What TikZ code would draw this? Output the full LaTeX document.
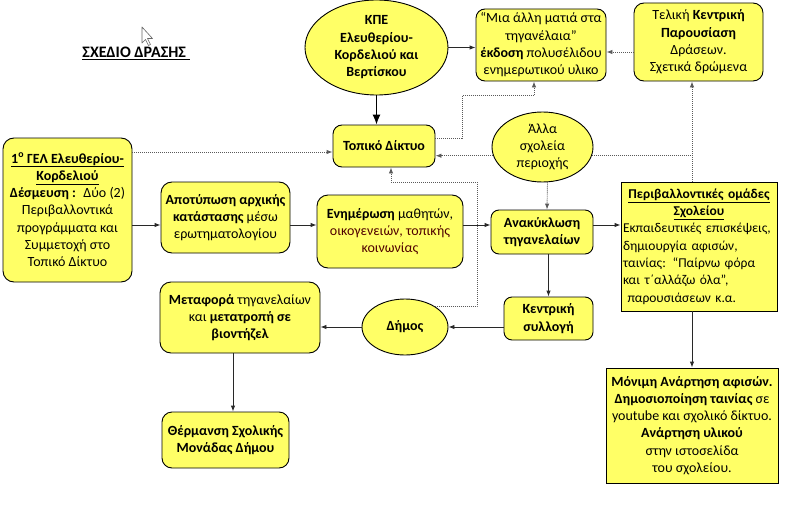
\documentclass[tikz,border=0pt]{standalone}
\usepackage{fontspec}
\setmainfont{Carlito}
\usetikzlibrary{arrows.meta,shapes.geometric}
\definecolor{boxyellow}{RGB}{255,255,102}
\definecolor{linegray}{RGB}{40,40,40}
\definecolor{dotgray}{RGB}{90,90,90}
\definecolor{darkred}{RGB}{80,0,0}
\tikzset{
  base/.style={draw=black, line width=0.9pt, fill=boxyellow, align=center, inner sep=1pt,
    font=\fontsize{14}{17.3}\selectfont},
  rbox/.style={base, rounded corners=11pt},
  sbox/.style={base},
  ebox/.style={base, ellipse},
  arr/.style={draw=linegray, line width=0.9pt, -{Latex[length=6pt,width=4.5pt]}},
  bigarr/.style={draw=black, line width=1.2pt, -{Latex[length=10pt,width=8pt]}},
  dotline/.style={draw=dotgray, line width=0.9pt, dash pattern=on 1pt off 1pt},
  dotarr/.style={dotline, -{Latex[length=6pt,width=4.5pt]}},
}
\begin{document}
\begin{tikzpicture}[x=1pt,y=-1pt]
\useasboundingbox (0,0) rectangle (789,519);
% title
\node[font=\fontsize{16}{19}\selectfont\bfseries, inner sep=0pt] (title) at (136,53) {\underline{ΣΧΕΔΙΟ ΔΡΑΣΗΣ\ }};
% cursor
\draw[fill=white, draw=gray!80!black, line width=0.6pt, line join=round]
  (142,27) -- (142,43) -- (145.5,39.5) -- (148.5,45.5) -- (150.5,44.5) -- (147.5,38.5) -- (152.5,38.5) -- cycle;

% nodes
\node[rbox, minimum width=129pt, minimum height=144pt] (gel) at (67.5,210)
 {\textbf{\underline{1\textsuperscript{ο} ΓΕΛ Ελευθερίου-}}\\
  \textbf{\underline{Κορδελιού}}\\
  \textbf{Δέσμευση :} \ Δύο (2)\\
  Περιβαλλοντικά\\προγράμματα και\\Συμμετοχή στο\\Τοπικό Δίκτυο};
\node[rbox, minimum width=129pt, minimum height=71pt] (apot) at (225.5,217.5)
 {\textbf{Αποτύπωση αρχικής}\\\textbf{κατάστασης} μέσω\\ερωτηματολογίου};
\node[rbox, minimum width=146pt, minimum height=73pt] (enim) at (390,231.5)
 {\textbf{Ενημέρωση} μαθητών,\\\textcolor{darkred}{οικογενειών, τοπικής}\\\textcolor{darkred}{κοινωνίας}};
\node[rbox, rounded corners=9pt, minimum width=102pt, minimum height=42pt] (topiko) at (384,146)
 {\textbf{Τοπικό Δίκτυο}};
\node[ebox, minimum width=101pt, minimum height=70pt, inner sep=0pt] (alla) at (542.5,147)
 {Άλλα\\σχολεία\\περιοχής};
\node[rbox, rounded corners=8pt, minimum width=102pt, minimum height=44pt] (anak) at (542,232)
 {\textbf{Ανακύκλωση}\\\textbf{τηγανελαίων}};
\node[ebox, minimum width=143pt, minimum height=95pt, inner sep=0pt] (kpe) at (376.5,47.5)
 {\textbf{ΚΠΕ}\\\textbf{Ελευθερίου-}\\\textbf{Κορδελιού και}\\\textbf{Βερτίσκου}};
\node[rbox, rounded corners=9pt, minimum width=130pt, minimum height=72pt] (mia) at (541,45)
 {“Μια άλλη ματιά στα\\τηγανέλαια”\\\textbf{έκδοση} πολυσέλιδου\\ενημερωτικού υλικο};
\node[rbox, rounded corners=10pt, minimum width=129pt, minimum height=78pt] (teliki) at (698.5,42)
 {Τελική \textbf{Κεντρική}\\\textbf{Παρουσίαση}\\Δράσεων.\\Σχετικά δρώμενα};
\node[sbox, minimum width=156pt, minimum height=129pt, text width=152pt, align=left,
      font=\fontsize{13.5}{17.3}\selectfont] (periv) at (699,246.5)
 {{\centering\textbf{\underline{Περιβαλλοντικές ομάδες}}\\\textbf{\underline{Σχολείου}}\par}
  Εκπαιδευτικές επισκέψεις,\\δημιουργία αφισών,\\ταινίας: “Παίρνω φόρα\\και τ΄αλλάζω όλα”,\\\ παρουσιάσεων κ.α.};
\node[rbox, rounded corners=8pt, minimum width=89pt, minimum height=43pt] (kentr) at (548.5,318.5)
 {\textbf{Κεντρική}\\\textbf{συλλογή}};
\node[ebox, minimum width=86pt, minimum height=56pt, inner sep=0pt] (dimos) at (405,327)
 {\textbf{Δήμος}};
\node[rbox, minimum width=160pt, minimum height=71pt] (metaf) at (240,317.5)
 {\textbf{Μεταφορά} τηγανελαίων\\και \textbf{μετατροπή σε}\\\textbf{βιοντήζελ}};
\node[rbox, rounded corners=10pt, minimum width=127pt, minimum height=56pt] (therm) at (225.5,440)
 {\textbf{Θέρμανση Σχολικής}\\\textbf{Μονάδας Δήμου}};
\node[sbox, minimum width=172pt, minimum height=115pt] (monimi) at (692,425.5)
 {\textbf{Μόνιμη Ανάρτηση αφισών.}\\\textbf{Δημοσιοποίηση ταινίας} σε\\youtube και σχολικό δίκτυο.\\\textbf{Ανάρτηση υλικού}\\στην ιστοσελίδα\\του σχολείου.};

% helper coordinates
\coordinate (t1) at ([yshift=-6pt]topiko.west);
\coordinate (row) at (0,225);
\coordinate (vx) at (692,0);
\coordinate (m1) at ([xshift=-7pt,yshift=-14pt]mia.south);
\coordinate (d1) at (477,311);
\coordinate (d2) at (391,182);

% connectors
\draw[dotarr] (gel.east |- t1) -- (t1);
\draw[arr] (kpe.east) -- (kpe.east -| mia.west);
\draw[bigarr] (kpe.south) -- (kpe.south |- topiko.north);
\draw[dotarr] ([yshift=-10pt]teliki.west) -- ([yshift=-10pt]teliki.west -| mia.east);
\draw[dotarr] ([yshift=8pt]topiko.east) -- ++(27,0) |- (m1) -- ([xshift=-7pt]mia.south);
\draw[dotarr] (alla.190) -- (alla.190 -| topiko.east);
\draw[dotarr] ([xshift=5pt]alla.south) -- ([xshift=5pt]anak.north);
\draw[dotline] (alla.-10) -- (alla.-10 -| vx);
\draw[dotarr] (periv.north -| vx) -- (teliki.south -| vx);
\draw[arr] (gel.east |- row) -- (apot.west |- row);
\draw[arr] (apot.east |- row) -- (enim.west |- row);
\draw[arr] (enim.east |- row) -- (anak.west |- row);
\draw[arr] (anak.east |- row) -- (periv.west |- row);
\draw[arr] (anak.south -| kentr.north) -- (kentr.north);
\draw[arr] (kentr.west |- dimos.east) -- (dimos.east);
\draw[arr] (dimos.west) -- (dimos.west -| metaf.east);
\draw[arr] ([xshift=-7pt]metaf.south) -- ([xshift=-7pt]metaf.south |- therm.north);
\draw[dotarr] (dimos.35) -- (dimos.35 -| d1) -- (d1 |- d2) -- (d2) -- (d2 |- topiko.south);
\draw[arr] (periv.south -| vx) -- (monimi.north -| vx);
\end{tikzpicture}
\end{document}
